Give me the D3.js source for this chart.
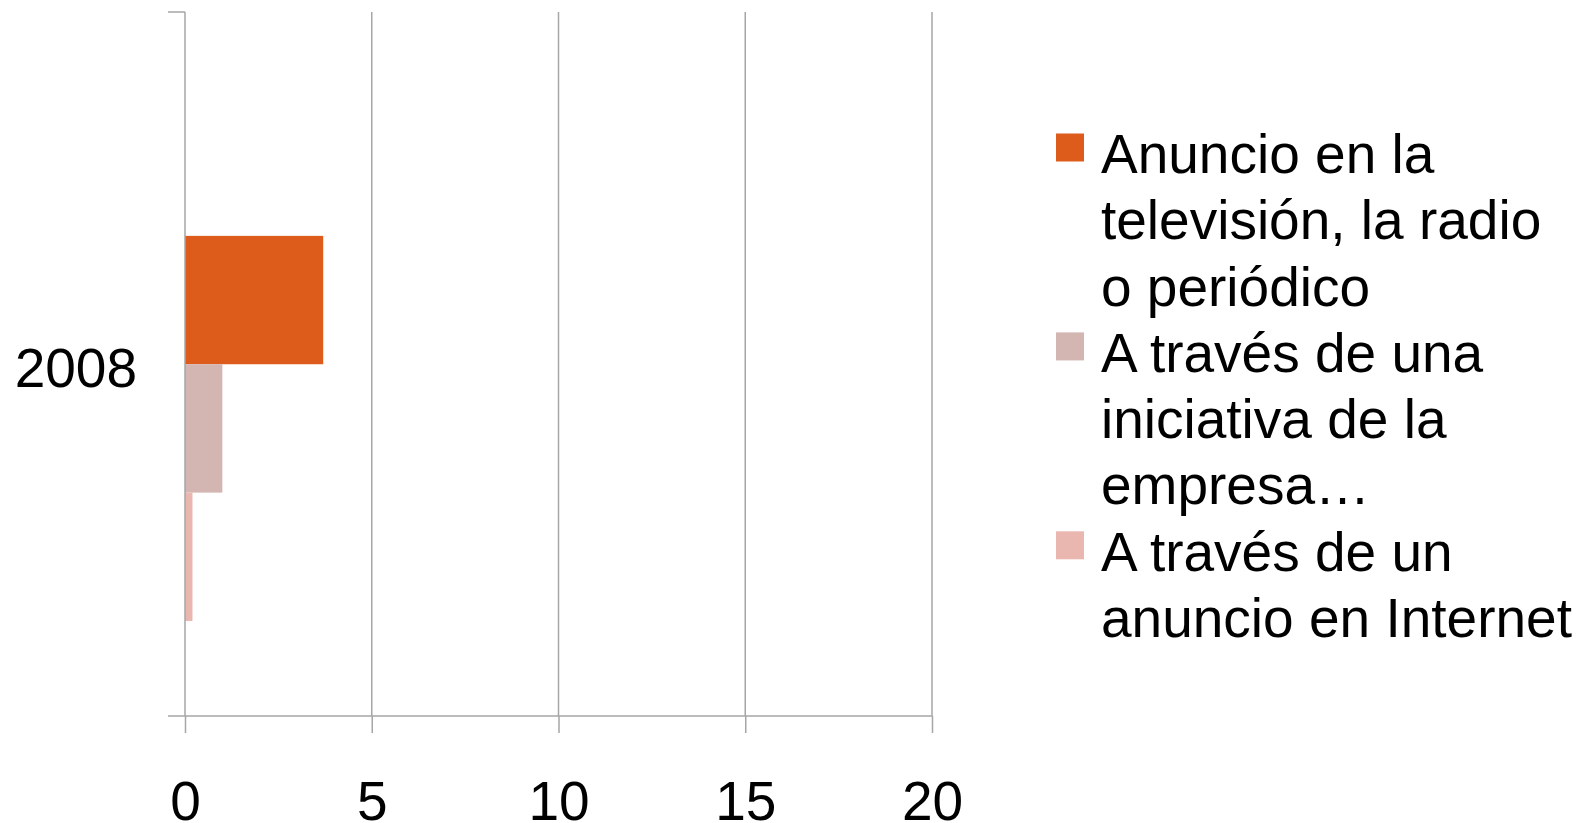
<!DOCTYPE html>
<html lang="es">
<head>
    <meta charset="UTF-8">
    <title>2008</title>
    <script src="https://d3js.org/d3.v7.min.js"></script>
    <style>
        body { margin: 0; background: #ffffff; }
        svg { display: block; }
        text {
            font-family: "Liberation Sans", Arial, sans-serif;
            font-size: 55px;
            fill: #000000;
        }
    </style>
</head>
<body>
<script>
    // chart data
    const categories = ["2008"];
    const seriesNames = [
        "Anuncio en la televisión, la radio o periódico",
        "A través de una iniciativa de la empresa…",
        "A través de un anuncio en Internet"
    ];
    const seriesValues = [3.7, 1.0, 0.2];
    const seriesColors = ["#dd5c1c", "#d3b5b2", "#eab6b0"];
    const legendLines = [
        ["Anuncio en la", "televisión, la radio", "o periódico"],
        ["A través de una", "iniciativa de la", "empresa…"],
        ["A través de un", "anuncio en Internet"]
    ];
    const xTicks = [0, 5, 10, 15, 20];

    const width = 1586;
    const height = 823;
    const margin = {top: 12, left: 185, right: 932, bottom: 716};
    const gridColor = "#a6a6a6";

    const svg = d3.select("body").append("svg")
        .attr("width", width)
        .attr("height", height);

    const x = d3.scaleLinear()
        .domain([0, 20])
        .range([margin.left, margin.right]);

    const y = d3.scaleBand()
        .domain(categories)
        .range([margin.top, margin.bottom]);

    // bars sit in the lower part of the category band
    const ySeries = d3.scaleBand()
        .domain(d3.range(seriesValues.length))
        .range([y.bandwidth() * 0.318, y.bandwidth() * 0.865]);

    // vertical gridlines
    svg.append("g")
        .selectAll("line")
        .data(xTicks.slice(1))
        .join("line")
        .attr("x1", d => x(d))
        .attr("x2", d => x(d))
        .attr("y1", margin.top)
        .attr("y2", margin.bottom)
        .attr("stroke", gridColor)
        .attr("stroke-width", 1.5);

    // bars
    const barData = seriesValues.map((v, i) => ({cat: categories[0], i: i, value: v}));
    svg.append("g")
        .selectAll("rect")
        .data(barData)
        .join("rect")
        .attr("x", x(0))
        .attr("y", d => y(d.cat) + ySeries(d.i))
        .attr("width", d => x(d.value) - x(0))
        .attr("height", ySeries.bandwidth())
        .attr("fill", d => seriesColors[d.i]);

    // x axis
    const xAxis = d3.axisBottom(x)
        .tickValues(xTicks)
        .tickSize(17)
        .tickPadding(48);

    const gx = svg.append("g")
        .attr("transform", `translate(0,${margin.bottom})`)
        .call(xAxis);
    gx.select(".domain").remove();
    gx.selectAll(".tick line").attr("stroke", gridColor).attr("stroke-width", 1.5);
    gx.selectAll(".tick text")
        .attr("font-size", null)
        .attr("font-family", null)
        .attr("fill", "#000")
        .attr("dy", "0.71em");

    svg.append("line")
        .attr("x1", margin.left - 17)
        .attr("x2", margin.right)
        .attr("y1", margin.bottom)
        .attr("y2", margin.bottom)
        .attr("stroke", gridColor)
        .attr("stroke-width", 1.5);

    // y axis (category ticks at band edges)
    const gy = svg.append("g")
        .attr("transform", `translate(${margin.left},0)`)
        .call(d3.axisLeft(y).tickSize(0).tickPadding(48));
    gy.select(".domain").remove();
    gy.selectAll(".tick text")
        .attr("font-size", null)
        .attr("font-family", null)
        .attr("fill", "#000")
        .attr("dy", "0.41em");

    svg.append("line")
        .attr("x1", margin.left)
        .attr("x2", margin.left)
        .attr("y1", margin.top)
        .attr("y2", margin.bottom)
        .attr("stroke", gridColor)
        .attr("stroke-width", 1.5);

    svg.append("g")
        .selectAll("line")
        .data([margin.top])
        .join("line")
        .attr("x1", margin.left - 17)
        .attr("x2", margin.left)
        .attr("y1", d => d)
        .attr("y2", d => d)
        .attr("stroke", gridColor)
        .attr("stroke-width", 1.5);

    // legend
    const lineH = 66.3;
    const legend = svg.append("g")
        .attr("transform", "translate(1056,173)");

    let lineIdx = 0;
    legendLines.forEach((lines, i) => {
        const item = legend.append("g")
            .attr("transform", `translate(0,${lineIdx * lineH})`);
        item.append("rect")
            .attr("x", 0)
            .attr("y", -39.5)
            .attr("width", 28)
            .attr("height", 28)
            .attr("fill", seriesColors[i]);
        item.selectAll("text")
            .data(lines)
            .join("text")
            .attr("x", 45)
            .attr("y", (d, j) => j * lineH)
            .text(d => d);
        lineIdx += lines.length;
    });
</script>
</body>
</html>
